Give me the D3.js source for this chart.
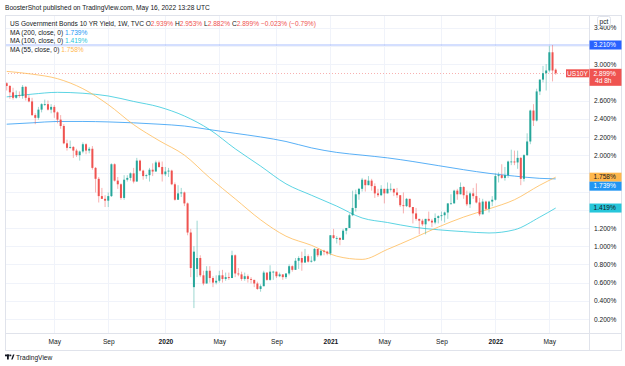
<!DOCTYPE html>
<html>
<head>
<meta charset="utf-8">
<script src="https://cdn.jsdelivr.net/npm/d3@7"></script>
<style>
  body { margin: 0; background: #fff; }
  svg { display: block; font-family: "Liberation Sans", Arial, sans-serif; }
</style>
</head>
<body>
<div id="chartContainer"></div>
<script>
// US10Y weekly candles, first visible bar is the week of 21 Jan 2019
const firstWeek = "2019-01-21";

const opens = [
  2.79, 2.76, 2.69, 2.63, 2.66, 2.65, 2.75, 2.63, 2.59, 2.44, 2.41, 2.50, 2.56, 2.56, 2.50, 2.53, 2.47, 2.39, 2.32, 2.13,
  2.08, 2.09, 2.05, 2.00, 2.04, 2.12, 2.05, 2.07, 1.86, 1.74, 1.55, 1.52, 1.50, 1.55, 1.90, 1.72, 1.68, 1.53, 1.73, 1.75,
  1.80, 1.71, 1.94, 1.83, 1.77, 1.78, 1.84, 1.82, 1.92, 1.87,
  1.79, 1.82, 1.83, 1.68, 1.51, 1.58, 1.59, 1.47, 1.15, 0.55, 0.75, 0.87, 0.68, 0.59, 0.73, 0.65, 0.60, 0.62, 0.68, 0.64,
  0.66, 0.65, 0.90, 0.70, 0.69, 0.64, 0.67, 0.64, 0.63, 0.59, 0.53, 0.56, 0.71, 0.63, 0.72, 0.72, 0.67, 0.69, 0.66, 0.70,
  0.78, 0.74, 0.84, 0.87, 0.82, 0.89, 0.83, 0.84, 0.97, 0.90, 0.95, 0.94,
  0.92, 1.12, 1.09, 1.09, 1.07, 1.17, 1.20, 1.34, 1.42, 1.57, 1.63, 1.73, 1.67, 1.72, 1.66, 1.58, 1.56, 1.63, 1.58, 1.63,
  1.63, 1.59, 1.56, 1.45, 1.44, 1.52, 1.43, 1.36, 1.30, 1.28, 1.24, 1.30, 1.28, 1.26, 1.31, 1.33, 1.34, 1.37, 1.47, 1.47,
  1.61, 1.57, 1.65, 1.56, 1.46, 1.58, 1.55, 1.48, 1.35, 1.49, 1.41, 1.49,
  1.51, 1.77, 1.78, 1.75, 1.78, 1.93, 1.93, 1.92, 1.97, 1.74, 2.00, 2.15, 2.49, 2.38, 2.70, 2.83, 2.90, 2.93, 3.13, 2.939
];
const highs = [
  2.80, 2.77, 2.74, 2.71, 2.70, 2.77, 2.76, 2.66, 2.63, 2.46, 2.53, 2.57, 2.61, 2.60, 2.56, 2.55, 2.48, 2.44, 2.34, 2.17,
  2.16, 2.10, 2.07, 2.05, 2.14, 2.13, 2.09, 2.10, 1.87, 1.76, 1.64, 1.56, 1.59, 1.91, 1.91, 1.76, 1.69, 1.78, 1.78, 1.81,
  1.86, 1.97, 1.95, 1.84, 1.79, 1.86, 1.91, 1.94, 1.94, 1.93,
  1.87, 1.86, 1.84, 1.70, 1.67, 1.64, 1.60, 1.48, 1.19, 1.00, 1.28, 0.90, 0.73, 0.78, 0.78, 0.67, 0.68, 0.73, 0.74, 0.71,
  0.71, 0.95, 0.91, 0.76, 0.72, 0.71, 0.69, 0.66, 0.63, 0.61, 0.58, 0.73, 0.71, 0.79, 0.73, 0.72, 0.71, 0.69, 0.70, 0.80,
  0.79, 0.87, 0.89, 0.94, 0.97, 0.91, 0.89, 0.98, 0.97, 0.96, 0.96, 0.95,
  1.12, 1.19, 1.11, 1.10, 1.19, 1.20, 1.36, 1.61, 1.62, 1.64, 1.75, 1.73, 1.77, 1.74, 1.69, 1.63, 1.67, 1.63, 1.70, 1.69,
  1.63, 1.64, 1.56, 1.59, 1.53, 1.52, 1.43, 1.42, 1.30, 1.30, 1.30, 1.38, 1.30, 1.36, 1.34, 1.38, 1.38, 1.47, 1.57, 1.62,
  1.63, 1.70, 1.66, 1.61, 1.60, 1.64, 1.69, 1.53, 1.52, 1.50, 1.50, 1.55,
  1.80, 1.81, 1.90, 1.87, 1.94, 2.06, 2.05, 2.05, 1.98, 2.01, 2.24, 2.50, 2.56, 2.73, 2.83, 2.98, 3.00, 3.20, 3.21, 2.953
];
const lows = [
  2.71, 2.62, 2.61, 2.62, 2.63, 2.62, 2.60, 2.58, 2.43, 2.34, 2.39, 2.47, 2.54, 2.49, 2.46, 2.41, 2.35, 2.29, 2.12, 2.05,
  2.07, 1.97, 1.98, 1.94, 2.02, 2.01, 2.02, 1.84, 1.59, 1.48, 1.52, 1.43, 1.43, 1.54, 1.71, 1.63, 1.51, 1.51, 1.71, 1.72,
  1.69, 1.71, 1.82, 1.73, 1.74, 1.71, 1.77, 1.82, 1.86, 1.71,
  1.77, 1.76, 1.67, 1.50, 1.51, 1.54, 1.44, 1.12, 0.66, 0.32, 0.66, 0.66, 0.57, 0.59, 0.60, 0.55, 0.58, 0.60, 0.60, 0.62,
  0.63, 0.65, 0.66, 0.67, 0.62, 0.62, 0.60, 0.59, 0.55, 0.52, 0.50, 0.56, 0.62, 0.62, 0.63, 0.65, 0.66, 0.63, 0.64, 0.68,
  0.72, 0.74, 0.75, 0.73, 0.82, 0.82, 0.82, 0.83, 0.88, 0.89, 0.90, 0.90,
  0.90, 1.08, 1.03, 1.01, 1.07, 1.13, 1.20, 1.33, 1.38, 1.51, 1.60, 1.60, 1.67, 1.61, 1.53, 1.54, 1.55, 1.47, 1.58, 1.60,
  1.55, 1.53, 1.43, 1.36, 1.43, 1.42, 1.25, 1.28, 1.13, 1.22, 1.13, 1.27, 1.21, 1.24, 1.25, 1.28, 1.26, 1.30, 1.46, 1.47,
  1.51, 1.57, 1.52, 1.44, 1.42, 1.52, 1.47, 1.33, 1.35, 1.39, 1.37, 1.44,
  1.50, 1.70, 1.74, 1.72, 1.75, 1.89, 1.89, 1.85, 1.67, 1.71, 1.99, 2.12, 2.32, 2.37, 2.66, 2.80, 2.71, 2.91, 2.81, 2.882
];
const closes = [
  2.76, 2.69, 2.63, 2.66, 2.65, 2.75, 2.63, 2.59, 2.44, 2.41, 2.50, 2.56, 2.56, 2.50, 2.53, 2.47, 2.39, 2.32, 2.13, 2.08,
  2.09, 2.05, 2.00, 2.04, 2.12, 2.05, 2.07, 1.86, 1.74, 1.55, 1.52, 1.50, 1.55, 1.90, 1.72, 1.68, 1.53, 1.73, 1.75, 1.80,
  1.71, 1.94, 1.83, 1.77, 1.78, 1.84, 1.82, 1.92, 1.87, 1.79,
  1.82, 1.83, 1.68, 1.51, 1.58, 1.59, 1.47, 1.15, 0.76, 0.94, 0.87, 0.68, 0.59, 0.73, 0.65, 0.60, 0.62, 0.68, 0.64, 0.66,
  0.65, 0.90, 0.70, 0.69, 0.64, 0.67, 0.64, 0.63, 0.59, 0.53, 0.56, 0.71, 0.63, 0.72, 0.72, 0.67, 0.69, 0.66, 0.70, 0.78,
  0.74, 0.84, 0.87, 0.82, 0.89, 0.83, 0.84, 0.97, 0.90, 0.95, 0.94, 0.92,
  1.12, 1.09, 1.09, 1.07, 1.17, 1.20, 1.34, 1.42, 1.57, 1.63, 1.73, 1.67, 1.72, 1.66, 1.58, 1.56, 1.63, 1.58, 1.63, 1.63,
  1.59, 1.56, 1.45, 1.44, 1.52, 1.43, 1.36, 1.30, 1.28, 1.24, 1.30, 1.28, 1.26, 1.31, 1.33, 1.34, 1.37, 1.47, 1.47, 1.61,
  1.57, 1.65, 1.56, 1.46, 1.58, 1.55, 1.48, 1.35, 1.49, 1.41, 1.49, 1.51,
  1.77, 1.78, 1.75, 1.78, 1.93, 1.93, 1.92, 1.97, 1.74, 2.00, 2.15, 2.49, 2.38, 2.70, 2.83, 2.90, 2.93, 3.13, 2.93, 2.899
];

// moving averages, every 8 weeks
const maDates = [
  "2019-01-21", "2019-03-18", "2019-05-13", "2019-07-08", "2019-09-02", "2019-10-28", "2019-12-23",
  "2020-02-17", "2020-04-13", "2020-06-08", "2020-08-03", "2020-09-28", "2020-11-23",
  "2021-01-18", "2021-03-15", "2021-05-10", "2021-07-05", "2021-08-30", "2021-10-25", "2021-12-20",
  "2022-02-14", "2022-04-11", "2022-05-16"
];
const ma55 = [2.92, 2.89, 2.84, 2.73, 2.555, 2.335, 2.16, 2.00, 1.75, 1.52, 1.29, 1.11, 1.01,
  0.89, 0.855, 0.965, 1.085, 1.21, 1.32, 1.41, 1.51, 1.67, 1.758];
const ma100 = [2.64, 2.67, 2.69, 2.68, 2.65, 2.59, 2.53, 2.43, 2.28, 2.07, 1.88, 1.685, 1.56,
  1.44, 1.31, 1.26, 1.21, 1.18, 1.16, 1.145, 1.18, 1.32, 1.419];
const ma200 = [2.34, 2.355, 2.37, 2.37, 2.365, 2.355, 2.34, 2.32, 2.28, 2.24, 2.20, 2.15, 2.08,
  2.03, 2.00, 1.97, 1.93, 1.885, 1.84, 1.80, 1.77, 1.745, 1.739];

const priceTicks = [0.2, 0.4, 0.6, 0.8, 1.0, 1.2, 1.4, 1.6, 1.8, 2.0, 2.2, 2.4, 2.6, 2.8, 3.0, 3.2, 3.4];
const timeTickDates = ["2019-05-06", "2019-09-02", "2020-01-06", "2020-05-04", "2020-09-07",
  "2021-01-04", "2021-05-03", "2021-09-06", "2022-01-03", "2022-05-02"];
const timeTickLabels = ["May", "Sep", "2020", "May", "Sep", "2021", "May", "Sep", "2022", "May"];

const highLine = 3.21;
const lastPrice = 2.899;

const width = 625, height = 366;
const pane = { left: 5, right: 589, top: 15, bottom: 333, outerRight: 621, outerBottom: 350 };
const green = "#26a69a", red = "#ef5350";
const colMA200 = "#2196f3", colMA100 = "#26c6da", colMA55 = "#ffb74d";
const textCol = "#131722";
const fs = 6.6;

const parse = d3.utcParse("%Y-%m-%d");
const start = parse(firstWeek);
const bars = opens.map((o, i) => ({
  date: d3.utcDay.offset(start, 7 * i),
  o: o, h: highs[i], l: lows[i], c: closes[i]
}));

const x = d3.scaleUtc()
  .domain([start, bars[bars.length - 1].date])
  .range([6.7, 555.7]);
const y = d3.scaleLinear()
  .domain([0.2, 3.21])
  .range([319, 45]);

const svg = d3.select("#chartContainer").append("svg")
  .attr("width", width).attr("height", height);

svg.append("defs").append("clipPath").attr("id", "pane")
  .append("rect")
  .attr("x", pane.left).attr("y", pane.top)
  .attr("width", pane.right - pane.left).attr("height", pane.bottom - pane.top);

// grid
const grid = svg.append("g");
grid.selectAll(".hg").data(priceTicks).enter().append("line")
  .attr("x1", pane.left).attr("x2", pane.right)
  .attr("y1", d => Math.round(y(d)) + 0.5).attr("y2", d => Math.round(y(d)) + 0.5)
  .attr("stroke", "#f0f3fa");
grid.selectAll(".vg").data(timeTickDates).enter().append("line")
  .attr("x1", d => Math.round(x(parse(d))) + 0.5).attr("x2", d => Math.round(x(parse(d))) + 0.5)
  .attr("y1", pane.top).attr("y2", pane.bottom)
  .attr("stroke", "#f0f3fa");

const plot = svg.append("g").attr("clip-path", "url(#pane)");

// high line and last price line
plot.append("line")
  .attr("x1", pane.left).attr("x2", pane.right)
  .attr("y1", y(highLine)).attr("y2", y(highLine))
  .attr("stroke", "#2962ff").attr("stroke-opacity", 0.4).attr("stroke-width", 1);
plot.append("line")
  .attr("x1", pane.left).attr("x2", pane.right)
  .attr("y1", Math.round(y(lastPrice)) + 0.5).attr("y2", Math.round(y(lastPrice)) + 0.5)
  .attr("stroke", red).attr("stroke-opacity", 0.45).attr("stroke-dasharray", "1,2");

// moving averages
const maLine = vals => d3.line()
  .x(d => x(parse(d)))
  .y((d, i) => y(vals[i]))
  .curve(d3.curveMonotoneX)(maDates);
[[ma200, colMA200], [ma100, colMA100], [ma55, colMA55]].forEach(([vals, col]) => {
  plot.append("path").attr("d", maLine(vals))
    .attr("fill", "none").attr("stroke", col).attr("stroke-opacity", 0.75).attr("stroke-width", 1);
});

// candles
const candle = plot.selectAll(".candle").data(bars).enter().append("g");
candle.append("line")
  .attr("x1", d => x(d.date)).attr("x2", d => x(d.date))
  .attr("y1", d => y(d.h)).attr("y2", d => y(d.l))
  .attr("stroke", d => d.c >= d.o ? green : red)
  .attr("stroke-opacity", 0.45).attr("stroke-width", 1);
candle.append("rect")
  .attr("x", d => x(d.date) - 1)
  .attr("y", d => y(Math.max(d.o, d.c)))
  .attr("width", 2)
  .attr("height", d => Math.max(0.8, Math.abs(y(d.o) - y(d.c))))
  .attr("fill", d => d.c >= d.o ? green : red);

// frame
svg.append("rect")
  .attr("x", pane.left + 0.5).attr("y", pane.top + 0.5)
  .attr("width", pane.outerRight - pane.left).attr("height", pane.outerBottom - pane.top)
  .attr("fill", "none").attr("stroke", "#e0e3eb");
svg.append("line")
  .attr("x1", pane.right + 0.5).attr("x2", pane.right + 0.5)
  .attr("y1", pane.top).attr("y2", pane.outerBottom)
  .attr("stroke", "#e0e3eb");
svg.append("line")
  .attr("x1", pane.left).attr("x2", pane.outerRight)
  .attr("y1", pane.bottom + 0.5).attr("y2", pane.bottom + 0.5)
  .attr("stroke", "#e0e3eb");

// price-axis boxes for the lines, stacked when they collide
const boxH = 9;
const axisLabels = [
  { v: highLine, fill: "#2962ff", text: "#fff", h: boxH },
  { v: lastPrice, fill: red, text: "#fff", h: 17, extra: "4d 8h" },
  { v: ma55[ma55.length - 1], fill: colMA55, text: textCol, h: boxH },
  { v: ma200[ma200.length - 1], fill: colMA200, text: "#fff", h: boxH },
  { v: ma100[ma100.length - 1], fill: colMA100, text: textCol, h: boxH }
].sort((a, b) => b.v - a.v);
let lastBottom = -Infinity;
axisLabels.forEach(lb => {
  let top = y(lb.v) - 4.5;
  if (top < lastBottom) top = lastBottom;
  lb.top = top;
  lastBottom = top + lb.h;
});

// price axis, dropping ticks hidden behind the boxes
const shownTicks = priceTicks.filter(t => !axisLabels.some(lb => y(t) > lb.top - 2.5 && y(t) < lb.top + lb.h + 2.5));
const yAxis = svg.append("g")
  .attr("transform", `translate(${pane.right},0)`)
  .call(d3.axisRight(y).tickValues(shownTicks).tickSize(0).tickPadding(5)
    .tickFormat(d => d3.format(".3f")(d) + "%"));
yAxis.select(".domain").remove();
yAxis.selectAll("text").attr("font-size", fs).attr("font-family", "Liberation Sans, Arial, sans-serif")
  .attr("fill", textCol);

axisLabels.forEach(lb => {
  svg.append("rect").attr("x", pane.right + 0.5).attr("y", lb.top)
    .attr("width", pane.outerRight - pane.right).attr("height", lb.h).attr("fill", lb.fill);
  svg.append("text").attr("x", pane.right + 4.5).attr("y", lb.top + 6.8)
    .attr("font-size", fs).attr("fill", lb.text).text(d3.format(".3f")(lb.v) + "%");
  if (lb.extra) {
    svg.append("text").attr("x", pane.right + 6).attr("y", lb.top + 14.3)
      .attr("font-size", fs).attr("fill", lb.text).text(lb.extra);
  }
});

// symbol tag next to the last price
const ly = y(lastPrice);
svg.append("rect").attr("x", 566).attr("y", ly - 4)
  .attr("width", pane.right - 566).attr("height", 8).attr("fill", red);
svg.append("text").attr("x", 577.5).attr("y", ly + 2.2).attr("text-anchor", "middle")
  .attr("font-size", fs).attr("fill", "#fff").text("US10Y");

// pct caption
svg.append("rect").attr("x", 597.5).attr("y", 16.5).attr("width", 13).attr("height", 9)
  .attr("rx", 2).attr("fill", "#fff").attr("stroke", "#e0e3eb");
svg.append("text").attr("x", 604).attr("y", 23.5).attr("text-anchor", "middle")
  .attr("font-size", fs).attr("fill", textCol).text("pct");

// time axis
const xAxis = svg.append("g")
  .attr("transform", `translate(0,${pane.bottom})`)
  .call(d3.axisBottom(x).tickValues(timeTickDates.map(parse)).tickSize(0).tickPadding(6)
    .tickFormat((d, i) => timeTickLabels[i]));
xAxis.select(".domain").remove();
xAxis.selectAll("text").attr("font-size", fs).attr("font-family", "Liberation Sans, Arial, sans-serif")
  .attr("fill", textCol)
  .attr("font-weight", (d, i) => /^\d{4}$/.test(timeTickLabels[i]) ? "bold" : "normal");

// header and legend
svg.append("text").attr("x", 5).attr("y", 9.5).attr("font-size", fs).attr("fill", textCol)
  .text("BoosterShot published on TradingView.com, May 16, 2022 13:28 UTC");

const title = svg.append("text").attr("x", 10).attr("y", 25.5).attr("font-size", fs).attr("fill", textCol);
const ohlc = [["US Government Bonds 10 YR Yield, 1W, TVC  O", textCol], ["2.939%", red],
  [" H", textCol], ["2.953%", red], [" L", textCol], ["2.882%", red],
  [" C", textCol], ["2.899%", red], [" \u22120.023% (\u22120.79%)", red]];
ohlc.forEach(([t, c]) => title.append("tspan").attr("fill", c).text(t));

const legend = [
  ["MA (200, close, 0) ", ma200[ma200.length - 1], colMA200, 34.5],
  ["MA (100, close, 0) ", ma100[ma100.length - 1], colMA100, 43],
  ["MA (55, close, 0) ", ma55[ma55.length - 1], colMA55, 51.5]
];
legend.forEach(([t, v, c, yy]) => {
  const tx = svg.append("text").attr("x", 10).attr("y", yy).attr("font-size", fs).attr("fill", textCol);
  tx.append("tspan").text(t);
  tx.append("tspan").attr("fill", c).text(d3.format(".3f")(v) + "%");
});

// TradingView logo
const logo = svg.append("g").attr("fill", textCol);
logo.append("rect").attr("x", 5).attr("y", 354.5).attr("width", 4.5).attr("height", 1.8);
logo.append("rect").attr("x", 7).attr("y", 354.5).attr("width", 1.8).attr("height", 5);
logo.append("circle").attr("cx", 10.5).attr("cy", 355.4).attr("r", 0.9);
logo.append("path").attr("d", "M11.2 359.5 L13 354.5 L14.5 354.5 L12.6 359.5 Z");
svg.append("text").attr("x", 16).attr("y", 359.6).attr("font-size", fs).attr("fill", textCol)
  .text("TradingView");
</script>
</body>
</html>
